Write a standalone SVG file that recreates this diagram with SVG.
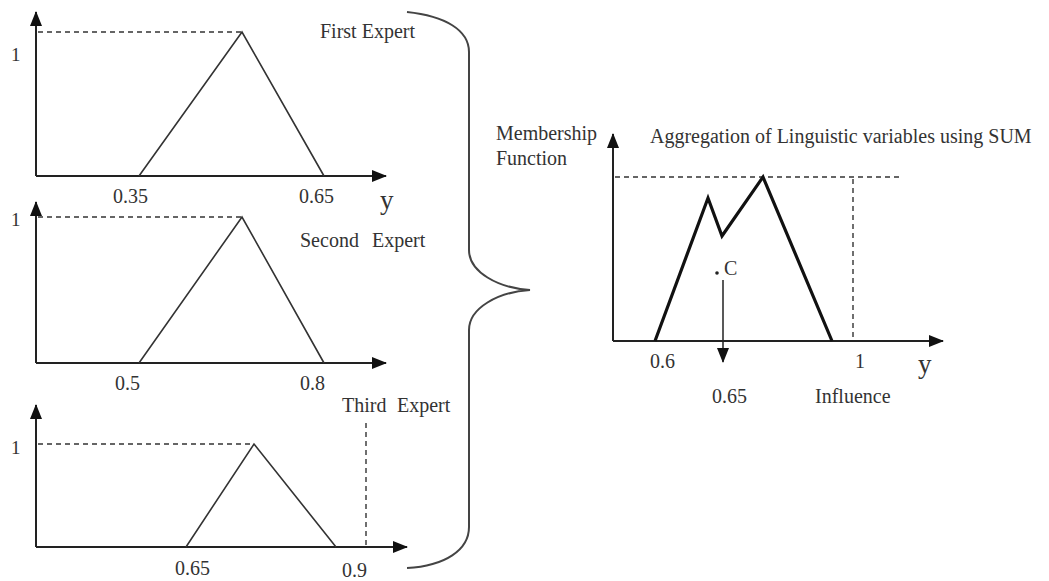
<svg xmlns="http://www.w3.org/2000/svg" width="1049" height="581" viewBox="0 0 1049 581">
<defs>
<marker id="ah" markerUnits="userSpaceOnUse" markerWidth="16" markerHeight="12" refX="14" refY="6" orient="auto">
<path d="M0,0 L15,6 L0,12 Z" fill="#111"/>
</marker>
<style>
.t{font-family:"Liberation Serif","Times New Roman",serif;font-size:20px;fill:#333}
.one{font-family:"Liberation Serif","Times New Roman",serif;font-size:19px;fill:#333}
.yl{font-family:"Liberation Serif","Times New Roman",serif;font-size:27px;fill:#333}
.axis{stroke:#222;stroke-width:2;fill:none}
.mf{stroke:#333;stroke-width:1.6;fill:none}
.dash{stroke:#333;stroke-width:1.4;stroke-dasharray:5,4;fill:none}
.agg{stroke:#111;stroke-width:3.2;fill:none;stroke-linejoin:miter}
</style>
</defs>
<rect width="1049" height="581" fill="#fff"/>

<g id="graph1">
<line class="axis" x1="36" y1="176" x2="36" y2="12" marker-end="url(#ah)"/>
<line class="axis" x1="36" y1="176" x2="386" y2="176" marker-end="url(#ah)"/>
<line class="dash" x1="38" y1="32" x2="242" y2="32"/>
<polyline class="mf" points="139,176 242,32 324,176"/>
<text class="one" x="11" y="61">1</text>
<text class="t" x="320" y="38">First Expert</text>
<text class="t" x="113" y="203">0.35</text>
<text class="t" x="299" y="203">0.65</text>
<text class="yl" x="380" y="209">y</text>
</g>

<g id="graph2">
<line class="axis" x1="36" y1="363" x2="36" y2="202" marker-end="url(#ah)"/>
<line class="axis" x1="36" y1="363" x2="386" y2="363" marker-end="url(#ah)"/>
<line class="dash" x1="38" y1="217" x2="242" y2="217"/>
<polyline class="mf" points="139,363 242,217 324,363"/>
<text class="one" x="11" y="226">1</text>
<text class="t" x="300" y="247">Second</text>
<text class="t" x="372" y="247">Expert</text>
<text class="t" x="115" y="390">0.5</text>
<text class="t" x="300" y="390">0.8</text>
</g>

<g id="graph3">
<line class="axis" x1="36" y1="547" x2="36" y2="405" marker-end="url(#ah)"/>
<line class="axis" x1="36" y1="547" x2="407" y2="547" marker-end="url(#ah)"/>
<line class="dash" x1="38" y1="444" x2="254" y2="444"/>
<line class="dash" x1="366" y1="423" x2="366" y2="545"/>
<polyline class="mf" points="186,547 254,444 336,547"/>
<text class="one" x="11" y="454">1</text>
<text class="t" x="342" y="412">Third</text>
<text class="t" x="397" y="412">Expert</text>
<text class="t" x="175" y="575">0.65</text>
<text class="t" x="342" y="577">0.9</text>
</g>

<g id="brace">
<path d="M407,12 C445,16 469,30 469,52 L469,250 C469,272 498,288 530,290 C498,292 469,308 469,330 L469,527 C469,550 445,566 407,568" stroke="#444" stroke-width="2" fill="none"/>
</g>

<g id="aggregate">
<line class="axis" x1="613" y1="341" x2="613" y2="134" marker-end="url(#ah)"/>
<line class="axis" x1="613" y1="341" x2="943" y2="341" marker-end="url(#ah)"/>
<line class="dash" x1="615" y1="177" x2="903" y2="177"/>
<line class="dash" x1="853" y1="179" x2="853" y2="341"/>
<polyline class="agg" points="655,341 708,198 722,236 763,177 832,341"/>
<circle cx="717" cy="273" r="1.8" fill="#222"/>
<text class="t" x="724" y="275">C</text>
<line x1="723" y1="280" x2="723" y2="362" stroke="#222" stroke-width="1.5" marker-end="url(#ah)"/>
<text class="t" x="496" y="140">Membership</text>
<text class="t" x="496" y="165">Function</text>
<text class="t" x="650" y="143">Aggregation of Linguistic variables using SUM</text>
<text class="t" x="650" y="368">0.6</text>
<text class="t" x="855" y="368">1</text>
<text class="yl" x="918" y="373">y</text>
<text class="t" x="712" y="403">0.65</text>
<text class="t" x="815" y="403">Influence</text>
</g>
</svg>
